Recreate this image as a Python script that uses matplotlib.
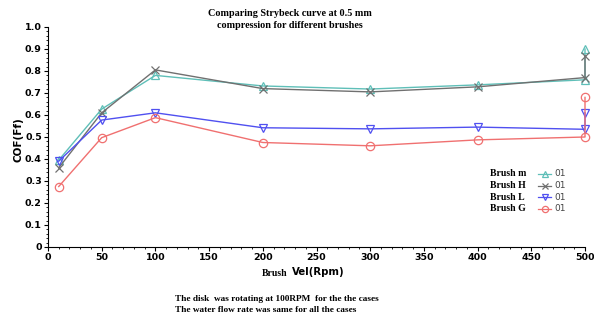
import matplotlib.pyplot as plt
from matplotlib.ticker import MultipleLocator
from matplotlib.lines import Line2D

vel = [10, 50, 100, 200, 300, 400, 500, 500]
brush_m = [0.395, 0.627, 0.78, 0.732, 0.718, 0.737, 0.76, 0.90]
brush_h = [0.36, 0.61, 0.805, 0.72, 0.705, 0.728, 0.77, 0.87]
brush_l = [0.39, 0.577, 0.61, 0.542, 0.537, 0.545, 0.535, 0.61]
brush_g = [0.275, 0.497, 0.588, 0.475, 0.46, 0.487, 0.50, 0.68]

names = ["Brush m", "Brush H", "Brush L", "Brush G"]
series = [brush_m, brush_h, brush_l, brush_g]
colors = ["#5fbfb8", "#707070", "#5050f0", "#f07070"]
markers = ["^", "x", "v", "o"]

fig = plt.figure(figsize=(5.94, 3.22), dpi=100)
ax = fig.add_axes([48/594, 1-247/322, 537/594, 220/322])

for vals, c, m in zip(series, colors, markers):
    ax.plot(vel, vals, color=c, lw=1.0, marker=m, ms=6, mfc="none",
            mec=c, mew=0.9, clip_on=False)

ax.set_xlim(0, 500)
ax.set_ylim(0, 1.0)
ax.xaxis.set_major_locator(MultipleLocator(50))
ax.xaxis.set_minor_locator(MultipleLocator(10))
ax.yaxis.set_major_locator(MultipleLocator(0.1))
ax.yaxis.set_minor_locator(MultipleLocator(0.02))
ax.spines["top"].set_visible(False)
ax.spines["right"].set_visible(False)
ax.tick_params(which="major", length=3, width=0.8, labelsize=6.8, pad=1.5)
ax.tick_params(which="minor", length=1.5, width=0.6)
for lab in ax.get_xticklabels() + ax.get_yticklabels():
    lab.set_fontweight("bold")
ax.yaxis.set_major_formatter(plt.FuncFormatter(lambda v, p: "0" if v == 0 else f"{v:.1f}"))

fig.text(18/594, 1-140/322, "COF(Ff)", rotation=90, ha="center", va="center",
         fontsize=7.5, fontweight="bold")
fig.text(290/594, 1-19.5/322, "Comparing Strybeck curve at 0.5 mm\ncompression for different brushes",
         ha="center", va="center", fontsize=7.3, fontweight="bold",
         family="Liberation Serif", linespacing=1.35)
fig.text(287/594, 1-273/322, "Brush", ha="right", va="center", fontsize=7,
         fontweight="bold", family="Liberation Serif")
fig.text(292/594, 1-272/322, "Vel(Rpm)", ha="left", va="center", fontsize=7.3,
         fontweight="bold")
fig.text(175/594, 1-304.5/322, "The disk  was rotating at 100RPM  for the the cases\nThe water flow rate was same for all the cases",
         ha="left", va="center", fontsize=6.7, fontweight="bold",
         family="Liberation Serif", linespacing=1.55)

for i, (n, c, m) in enumerate(zip(names, colors, markers)):
    y = 1 - (174 + i * 11.5) / 322
    fig.text(490/594, y, n, ha="left", va="center", fontsize=7,
             fontweight="bold", family="Liberation Serif")
    fig.add_artist(Line2D([538/594, 551/594], [y, y], color=c, lw=0.9,
                          transform=fig.transFigure))
    fig.add_artist(Line2D([544.5/594], [y], color=c, marker=m, ms=4.5,
                          mfc="none", mec=c, mew=0.9, transform=fig.transFigure))
    fig.text(554/594, y, "01", ha="left", va="center", fontsize=6.5, color="#444444")

fig.savefig("out.png", dpi=100)
